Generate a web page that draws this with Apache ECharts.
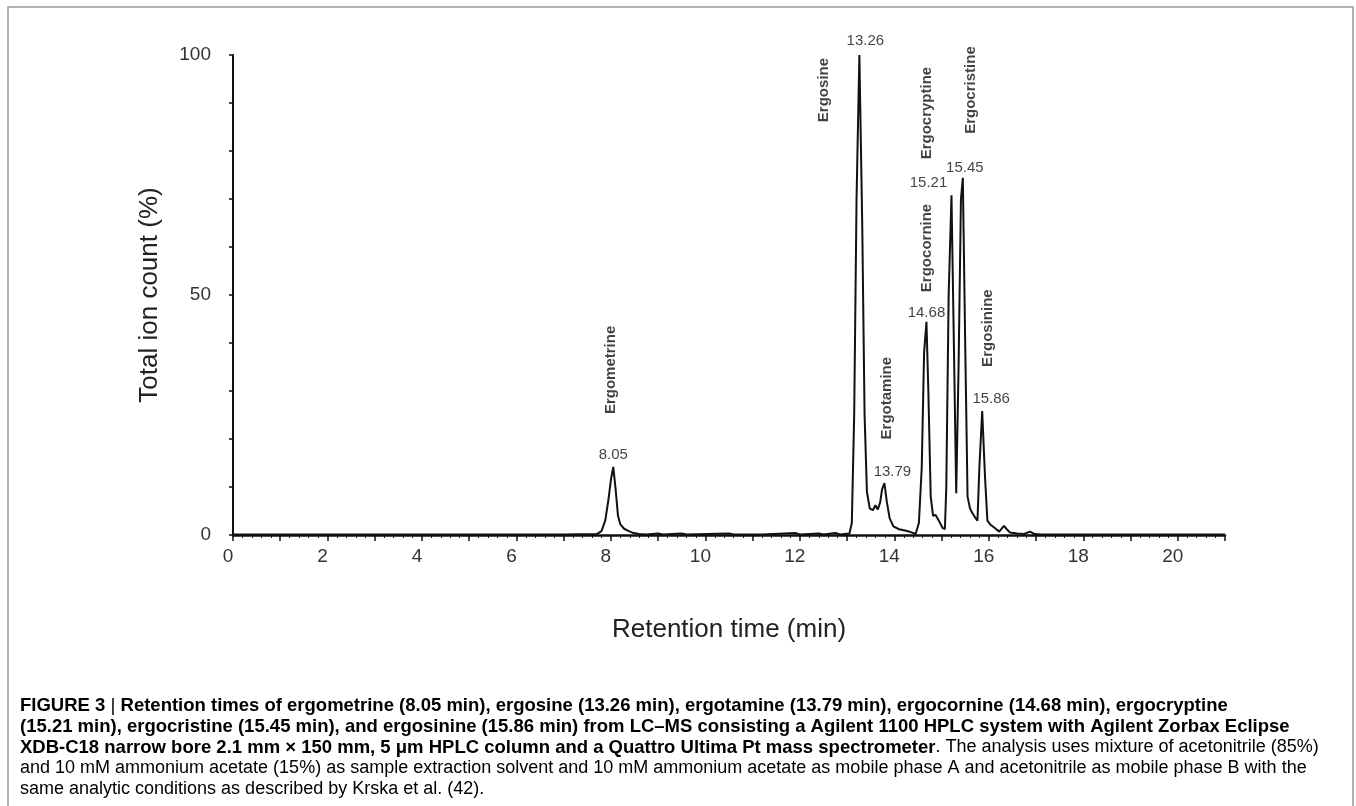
<!DOCTYPE html>
<html>
<head>
<meta charset="utf-8">
<title>LC–MS chromatogram of ergot alkaloids</title>
<script src="https://cdn.jsdelivr.net/npm/echarts@6/dist/echarts.min.js"></script>
<style>
  html, body { margin: 0; padding: 0; background: #fff; }
  #chart { width: 1356px; height: 806px; }
</style>
</head>
<body>
<div id="chart"></div>
<script>
// Total ion chromatogram: retention time (min) and relative intensity (%)
const retentionTime = [
  0.0, 1.0, 2.0, 3.0, 4.0, 5.0, 6.0, 7.0, 7.70, 7.80, 7.88, 7.95, 8.00, 8.05,
  8.10, 8.15, 8.20, 8.28, 8.38, 8.48, 8.60, 8.75, 9.00, 9.10, 9.50, 9.60,
  10.50, 10.60, 11.20, 11.90, 12.00, 12.40, 12.50, 12.75, 12.85, 13.05,
  13.10, 13.15, 13.20, 13.26, 13.32, 13.37, 13.42, 13.48, 13.55, 13.60,
  13.65, 13.70, 13.74, 13.79, 13.84, 13.90, 13.98, 14.10, 14.25, 14.35,
  14.45, 14.52, 14.58, 14.63, 14.68, 14.72, 14.77, 14.82, 14.87, 14.93,
  14.97, 15.02, 15.07, 15.10, 15.15, 15.21, 15.26, 15.31, 15.36, 15.41,
  15.45, 15.50, 15.55, 15.60, 15.64, 15.67, 15.72, 15.76, 15.80, 15.86,
  15.92, 15.97, 16.03, 16.12, 16.22, 16.32, 16.38, 16.45, 16.60, 16.75,
  16.87, 16.97, 17.10, 18.0, 19.0, 20.0, 21.0
];
const ionCount = [
  0.1, 0.1, 0.1, 0.1, 0.1, 0.1, 0.1, 0.1, 0.2, 0.8, 3.0, 7.5, 11.5, 14.2,
  9.5, 4.0, 2.2, 1.3, 0.8, 0.4, 0.2, 0.1, 0.3, 0.1, 0.3, 0.1,
  0.3, 0.1, 0.1, 0.4, 0.1, 0.3, 0.1, 0.4, 0.1, 0.3,
  2.5, 25, 70, 100, 65, 25, 9, 5.5, 5.2, 6.2,
  5.3, 6.8, 9.5, 10.8, 7.0, 3.5, 1.8, 1.2, 0.9, 0.6,
  0.2, 2.5, 14, 38, 44.4, 30, 8, 4.0, 4.2, 3.2,
  3.6, 1.5, 1.2, 10, 50, 70.8, 40, 8.7, 35, 70,
  74.4, 40, 8, 5.6, 4.8, 5.2, 3.5, 3.0, 14, 25.8,
  12, 3.0, 2.2, 1.5, 0.7, 1.9, 1.2, 0.5, 0.3, 0.2,
  0.7, 0.2, 0.1, 0.1, 0.1, 0.1, 0.1
];

// Identified peaks
const peakTimes = [8.05, 13.26, 13.79, 14.68, 15.21, 15.45, 15.86];
const peakHeights = [14.2, 100, 10.8, 44.4, 70.8, 74.4, 25.8];
const compoundNames = ['Ergometrine', 'Ergosine', 'Ergotamine', 'Ergocornine',
                       'Ergocryptine', 'Ergocristine', 'Ergosinine'];

// Axis tick labels
const xTickLabels = [0, 2, 4, 6, 8, 10, 12, 14, 16, 18, 20];
const yTickLabels = [0, 50, 100];

// ---- layout ----
const FONT = "'Liberation Sans', Arial, Helvetica, sans-serif";
// pixel nudges of the retention-time labels around each apex
const timeLabelOffset = [[0, 0], [6, -3], [8, 0], [0, 2], [-23, -1], [2, 1], [9, -1]];
// centres of the rotated compound names, in axis units
const nameAnchor = [[8.0, 34.4], [12.5, 92.7], [13.85, 28.5], [14.68, 59.8],
                    [14.68, 87.9], [15.63, 92.7], [15.99, 43.1]];

const trace = retentionTime.map((t, i) => [t, ionCount[i]]);

const timeLabels = peakTimes.map((t, i) => ({
  value: [t, peakHeights[i]],
  label: { offset: timeLabelOffset[i] }
}));

const nameLabels = compoundNames.map((n, i) => ({
  name: n,
  value: nameAnchor[i]
}));

// figure caption, one text element per printed line
const captionX = 20;
const captionY = [707, 728, 749, 770, 791];
const richStyles = {
  b: { fontFamily: FONT, fontWeight: 'bold', fontSize: 18.5, color: '#222' },
  r: { fontFamily: FONT, fontWeight: 'normal', fontSize: 18, color: '#333' },
  bar: { fontFamily: FONT, fontWeight: 'normal', fontSize: 19, color: '#777' },
  ref: { fontFamily: FONT, fontWeight: 'normal', fontSize: 18, color: '#888' }
};
const captionLines = [
  '{b|FIGURE 3 }{bar||}{b| Retention times of ergometrine (8.05 min), ergosine (13.26 min), ergotamine (13.79 min), ergocornine (14.68 min), ergocryptine}',
  '{b|(15.21 min), ergocristine (15.45 min), and ergosinine (15.86 min) from LC–MS consisting a Agilent 1100 HPLC system with Agilent Zorbax Eclipse}',
  '{b|XDB-C18 narrow bore 2.1 mm × 150 mm, 5 μm HPLC column and a Quattro Ultima Pt mass spectrometer}{r|. The analysis uses mixture of acetonitrile (85%)}',
  '{r|and 10 mM ammonium acetate (15%) as sample extraction solvent and 10 mM ammonium acetate as mobile phase A and acetonitrile as mobile phase B with the}',
  '{r|same analytic conditions as described by Krska et al. (}{ref|42}{r|).}'
];

const captionGraphics = captionLines.map((txt, i) => ({
  type: 'text',
  left: captionX,
  top: captionY[i] - 11,
  style: { text: txt, rich: richStyles, fontFamily: FONT, fontSize: 18 }
}));

const chart = echarts.init(document.getElementById('chart'), null, { renderer: 'canvas' });

chart.setOption({
  animation: false,
  backgroundColor: '#fff',
  grid: { left: 233, top: 55, right: 131, bottom: 271, containLabel: false },
  xAxis: {
    type: 'value',
    min: 0,
    max: 21,
    interval: 1,
    name: 'Retention time (min)',
    nameLocation: 'middle',
    nameGap: 82,
    nameTextStyle: { fontFamily: FONT, fontSize: 26, color: '#222' },
    axisLine: { onZero: false, lineStyle: { color: '#111', width: 2.5 } },
    axisTick: { show: true, length: 6, lineStyle: { color: '#111', width: 1.5 } },
    minorTick: { show: true, splitNumber: 5, length: 3, lineStyle: { color: '#111', width: 1 } },
    axisLabel: {
      fontFamily: FONT, fontSize: 19, color: '#333', margin: 12,
      padding: [0, 10, 0, 0],
      formatter: v => (xTickLabels.indexOf(v) >= 0 ? String(v) : '')
    },
    splitLine: { show: false },
    minorSplitLine: { show: false }
  },
  yAxis: {
    type: 'value',
    min: 0,
    max: 100,
    interval: 10,
    name: 'Total ion count (%)',
    nameLocation: 'middle',
    nameGap: 70,
    nameRotate: 90,
    nameTextStyle: { fontFamily: FONT, fontSize: 26, color: '#222' },
    axisLine: { show: true, onZero: false, lineStyle: { color: '#111', width: 2 } },
    axisTick: { show: true, length: 4, lineStyle: { color: '#111', width: 1.5 } },
    axisLabel: {
      fontFamily: FONT, fontSize: 19, color: '#333', margin: 22,
      padding: [0, 0, 6, 0],
      formatter: v => (yTickLabels.indexOf(v) >= 0 ? String(v) : '')
    },
    splitLine: { show: false }
  },
  series: [
    {
      type: 'line',
      data: trace,
      showSymbol: false,
      symbol: 'none',
      smooth: false,
      clip: false,
      silent: true,
      z: 3,
      lineStyle: { color: '#111', width: 2 }
    },
    {
      type: 'scatter',
      data: timeLabels,
      symbolSize: 0,
      silent: true,
      z: 4,
      label: {
        show: true,
        position: 'top',
        distance: 4,
        fontFamily: FONT,
        fontSize: 15,
        color: '#111',
        formatter: p => p.value[0].toFixed(2)
      }
    },
    {
      type: 'scatter',
      data: nameLabels,
      symbolSize: 0,
      silent: true,
      z: 4,
      label: {
        show: true,
        position: 'inside',
        rotate: 90,
        align: 'center',
        verticalAlign: 'middle',
        fontFamily: FONT,
        fontSize: 15,
        fontWeight: 'bold',
        color: '#111',
        formatter: p => p.name
      }
    }
  ],
  graphic: [
    {
      type: 'rect',
      shape: { x: 8, y: 7, width: 1345, height: 830 },
      style: { fill: 'none', stroke: '#999', lineWidth: 1.5 },
      silent: true
    }
  ].concat(captionGraphics)
});
</script>
</body>
</html>
